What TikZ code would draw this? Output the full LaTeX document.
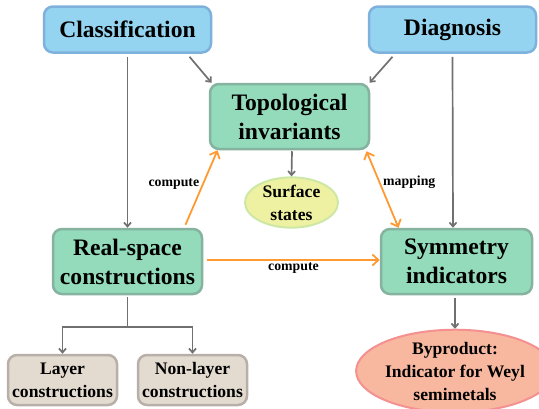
\documentclass[tikz,border=0pt]{standalone}
\usepackage{fontspec}
\setmainfont{Liberation Serif}
\usetikzlibrary{arrows.meta,shapes.geometric}
\definecolor{bluefill}{HTML}{94D4F0}
\definecolor{blueedge}{HTML}{7EB2DC}
\definecolor{greenfill}{HTML}{93DBBB}
\definecolor{greenedge}{HTML}{85B3A0}
\definecolor{yelfill}{HTML}{EEF1A2}
\definecolor{yeledge}{HTML}{CDE8A4}
\definecolor{redfill}{HTML}{F8B8A0}
\definecolor{rededge}{HTML}{F49090}
\definecolor{tanfill}{HTML}{E3DAD0}
\definecolor{tanedge}{HTML}{B8B0A8}
\definecolor{grayline}{HTML}{707070}
\definecolor{orangeline}{HTML}{FF9A33}
\tikzset{
  bigtxt/.style={font=\bfseries\fontsize{23.6}{29}\selectfont, align=center},
  smalltxt/.style={font=\bfseries\fontsize{17.6}{23}\selectfont, align=center},
  lbl/.style={font=\bfseries\fontsize{13.8}{16}\selectfont, inner sep=1pt},
  bluebox/.style={bigtxt, draw=blueedge, fill=bluefill, line width=2.5pt, rounded corners=9pt, inner sep=0pt},
  greenbox/.style={bigtxt, draw=greenedge, fill=greenfill, line width=2.5pt, rounded corners=9pt, inner sep=0pt},
  tanbox/.style={smalltxt, draw=tanedge, fill=tanfill, line width=2.5pt, rounded corners=9pt, inner sep=0pt},
  garrow/.style={draw=grayline, line width=1.7pt, -{Straight Barb[length=4pt,width=7pt]}},
  gline/.style={draw=grayline, line width=1.7pt},
  oarrow/.style={draw=orangeline, line width=1.8pt, -{Straight Barb[length=6pt,width=11pt]}},
  oarrows/.style={draw=orangeline, line width=1.8pt, {Straight Barb[length=6pt,width=11pt]}-{Straight Barb[length=6pt,width=11pt]}},
}
\begin{document}
\begin{tikzpicture}[x=1pt,y=-1pt]
\useasboundingbox (0,0) rectangle (539,408);
\node[bluebox, minimum width=167pt, minimum height=46pt] (cls) at (127.5,29.5) {Classification};
\node[bluebox, minimum width=167pt, minimum height=46pt] (dia) at (452.5,29.5) {Diagnosis};
\node[greenbox, minimum width=159pt, minimum height=65pt] (topo) at (289.5,116.5) {Topological\\invariants};
\node[ellipse, draw=yeledge, fill=yelfill, line width=2pt, minimum width=93pt, minimum height=45pt, inner sep=0pt, smalltxt] (surf) at (291.5,202.5) {Surface\\states};
\node[greenbox, minimum width=149pt, minimum height=65pt] (real) at (127.5,261.5) {Real-space\\constructions};
\node[greenbox, minimum width=151pt, minimum height=65pt] (sym) at (456.5,261.5) {Symmetry\\indicators};
\node[tanbox, minimum width=109pt, minimum height=50pt] (lay) at (62.5,380) {Layer\\constructions};
\node[tanbox, minimum width=109pt, minimum height=50pt] (nlay) at (192.5,380) {Non-layer\\constructions};
\node[ellipse, draw=rededge, fill=redfill, line width=2pt, minimum width=174pt, minimum height=72pt, inner sep=0pt, smalltxt] (byp) at (455,371) {Byproduct:\\Indicator for Weyl\\semimetals};
% gray arrows
\draw[garrow] (cls.south) ++(0,3) -- (real.north);
\draw[garrow] ([xshift=62pt]cls.south) ++(0,3) -- ([xshift=-78pt]topo.north);
\draw[garrow] ([xshift=-60pt]dia.south) ++(0,3) -- ([xshift=80pt]topo.north);
\draw[garrow] (dia.south) ++(0,3) -- ([xshift=-3.5pt]sym.north);
\draw[garrow] ([xshift=2.5pt]topo.south) ++(0,1) -- (surf.north);
\draw[garrow] ([xshift=-1.5pt]sym.south) ++(0,3) -- (byp.north);
\coordinate (jn) at (127.5,327);
\draw[gline] (real.south) ++(0,2) -- (jn);
\draw[garrow] (jn) -| (lay.north);
\draw[garrow] (jn) -| (nlay.north);
% orange arrows
\draw[oarrow] ([xshift=58pt]real.north) ++(0,-3) -- node[lbl, left, pos=0.55, xshift=-2pt] {compute} ([xshift=-72pt]topo.south);
\draw[oarrow] ([yshift=1.5pt]real.east) ++(4,0) -- node[lbl, below, yshift=-1pt] {compute} ([yshift=1.5pt]sym.west);
\draw[oarrows] ([xshift=77pt]topo.south) ++(0,1) -- node[lbl, right, pos=0.4, xshift=2pt] {mapping} ([xshift=-58pt]sym.north);
\end{tikzpicture}
\end{document}
